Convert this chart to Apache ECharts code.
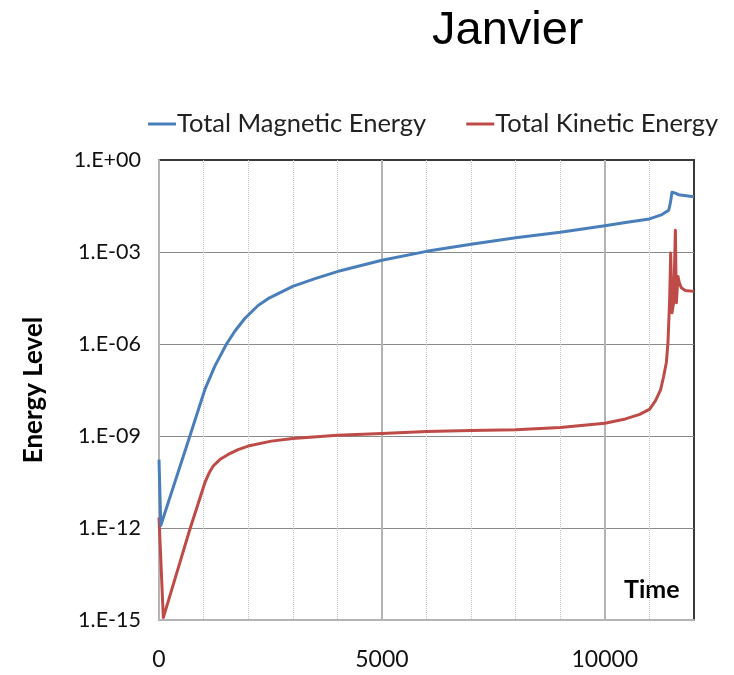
<!DOCTYPE html>
<html>
<head>
<meta charset="utf-8">
<script src="https://cdn.jsdelivr.net/npm/echarts@6/dist/echarts.min.js"></script>
<style>html,body{margin:0;padding:0;background:#fff;}#c{width:734px;height:675px;}</style>
</head>
<body>
<div id="c"></div>
<script>
const magT = [0, 40, 693, 1029, 1253, 1514, 1700, 1924, 2222, 2446, 3000, 3500, 4000, 5000, 6000, 7000, 8000, 9000, 10000, 10500, 11000, 11282, 11432, 11470, 11506, 11580, 11655, 11953, 12000];
const magE = [1.7e-10, 1.2e-12, 1.0e-9, 3.3e-8, 1.9e-7, 1.0e-6, 2.6e-6, 6.8e-6, 1.8e-5, 3.0e-5, 7.6e-5, 1.35e-4, 2.3e-4, 5.4e-4, 1.05e-3, 1.8e-3, 2.9e-3, 4.4e-3, 7.2e-3, 9.3e-3, 1.2e-2, 1.66e-2, 2.3e-2, 4.0e-2, 8.9e-2, 8.3e-2, 7.4e-2, 6.5e-2, 6.4e-2];
const kinT = [0, 97, 693, 1029, 1130, 1216, 1365, 1551, 1775, 2000, 2520, 3000, 4000, 5000, 6000, 7000, 8000, 9000, 10000, 10463, 10768, 11000, 11134, 11250, 11320, 11380, 11416, 11454, 11477, 11506, 11544, 11582, 11604, 11640, 11670, 11715, 11805, 12000];
const kinE = [2.2e-12, 1.2e-15, 9.1e-13, 3.0e-11, 6.5e-11, 1.05e-10, 1.7e-10, 2.5e-10, 3.6e-10, 4.7e-10, 6.8e-10, 8.3e-10, 1.05e-9, 1.2e-9, 1.4e-9, 1.5e-9, 1.6e-9, 1.9e-9, 2.6e-9, 3.6e-9, 5.0e-9, 7.4e-9, 1.4e-8, 3.2e-8, 8.9e-8, 2.5e-7, 1.1e-6, 2.8e-5, 9.3e-4, 1.05e-5, 2.2e-5, 5.1e-3, 2.2e-5, 1.6e-4, 1.0e-4, 6.8e-5, 5.6e-5, 5.2e-5];
const xTickLabels = [0, 5000, 10000];
const seriesNames = ['Total Magnetic Energy', 'Total Kinetic Energy'];

const FONT = 'Lato';
const chart = echarts.init(document.getElementById('c'), null, {renderer: 'canvas'});
function fmtY(v) {
  const e = Math.round(Math.log10(v));
  const a = Math.abs(e);
  return '1.E' + (e >= 0 ? '+' : '-') + (a < 10 ? '0' + a : '' + a);
}
chart.setOption({
  animation: false,
  backgroundColor: '#fff',
  title: {
    text: 'Janvier', left: 427, top: 3,
    textStyle: {fontFamily: 'Liberation Sans', fontSize: 47, fontWeight: 'normal', color: '#000'}
  },
  legend: {
    left: 143, top: 106, itemWidth: 28, itemHeight: 3, itemGap: 40,
    icon: 'rect',
    textStyle: {fontFamily: FONT, fontSize: 25.5, color: '#222', padding: [0, 0, 0, -4]},
    data: seriesNames
  },
  grid: {left: 159, right: 40, top: 160, bottom: 55, show: true, borderColor: '#3a3a3a', borderWidth: 2, backgroundColor: 'transparent'},
  xAxis: [
    {
      type: 'value', min: 0, max: 12000, interval: 1000,
      axisLine: {show: false}, axisTick: {show: false}, axisLabel: {show: false},
      splitLine: {show: true, showMinLine: false, showMaxLine: false, lineStyle: {type: 'dotted', color: '#c4c4c4', width: 1}}
    },
    {
      type: 'value', min: 0, max: 12000, interval: 5000, position: 'bottom',
      axisLine: {show: true, lineStyle: {color: '#b4b4b4', width: 2}},
      axisTick: {show: false},
      axisLabel: {
        margin: 28, fontFamily: FONT, fontSize: 23, color: '#111',
        formatter: v => (xTickLabels.indexOf(v) >= 0 ? String(v) : '')
      },
      splitLine: {show: true, showMinLine: false, showMaxLine: false, lineStyle: {color: '#b4b4b4', width: 2}}
    }
  ],
  yAxis: {
    type: 'log', logBase: 1000, min: 1e-15, max: 1, splitNumber: 5,
    name: 'Energy Level', nameLocation: 'middle', nameGap: 112,
    nameTextStyle: {fontFamily: FONT, fontSize: 26, fontWeight: 'bold', color: '#000'},
    axisLine: {show: true, lineStyle: {color: '#b4b4b4', width: 2}},
    axisTick: {show: false},
    axisLabel: {margin: 18, fontFamily: FONT, fontSize: 21.5, color: '#111', formatter: fmtY},
    splitLine: {show: true, showMinLine: false, showMaxLine: false, lineStyle: {color: '#8a8a8a', width: 1.2}}
  },
  graphic: [{
    type: 'text', left: 624, top: 577,
    style: {text: 'Time', fontFamily: FONT, fontSize: 25, fontWeight: 'bold', fill: '#000'}
  }],
  series: [
    {
      name: seriesNames[0], type: 'line', xAxisIndex: 0, showSymbol: false, symbol: 'none',
      data: magT.map((t, i) => [t, magE[i]]),
      lineStyle: {color: '#4a7ebb', width: 3, join: 'round'}, itemStyle: {color: '#4a7ebb'}, z: 3
    },
    {
      name: seriesNames[1], type: 'line', xAxisIndex: 0, showSymbol: false, symbol: 'none',
      data: kinT.map((t, i) => [t, kinE[i]]),
      lineStyle: {color: '#be4b48', width: 3, join: 'round'}, itemStyle: {color: '#be4b48'}, z: 2
    }
  ]
});
</script>
</body>
</html>
